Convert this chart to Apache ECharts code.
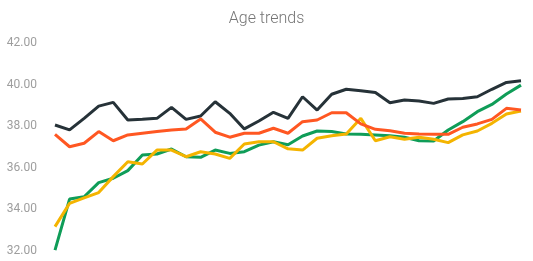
<!DOCTYPE html>
<html>
<head>
<meta charset="utf-8">
<script src="https://cdn.jsdelivr.net/npm/echarts@6/dist/echarts.min.js"></script>
<style>html,body{margin:0;padding:0;background:#fff}#c{width:533px;height:261px}</style>
</head>
<body>
<div id="c"></div>
<script>
var categories = [];
for (var k = 1; k <= 33; k++) categories.push(String(k));
var yTicks = [32, 34, 36, 38, 40, 42];
var seriesDark = [38.05,37.81,38.37,38.96,39.14,38.29,38.32,38.37,38.90,38.32,38.48,39.17,38.61,37.86,38.24,38.66,38.37,39.41,38.77,39.53,39.77,39.70,39.61,39.12,39.25,39.20,39.09,39.30,39.33,39.41,39.77,40.10,40.18];
var seriesOrange = [37.60,37.00,37.17,37.73,37.29,37.57,37.65,37.73,37.81,37.86,38.34,37.70,37.46,37.65,37.65,37.89,37.65,38.21,38.29,38.64,38.64,38.10,37.84,37.77,37.65,37.61,37.60,37.60,37.94,38.10,38.32,38.85,38.77];
var seriesGreen = [32.02,34.48,34.59,35.27,35.48,35.85,36.60,36.65,36.89,36.52,36.49,36.84,36.68,36.76,37.08,37.24,37.10,37.52,37.76,37.73,37.61,37.60,37.57,37.53,37.46,37.29,37.28,37.81,38.21,38.69,39.04,39.54,39.97];
var seriesYellow = [33.15,34.27,34.54,34.79,35.56,36.28,36.17,36.84,36.84,36.52,36.76,36.65,36.44,37.13,37.24,37.24,36.90,36.84,37.41,37.53,37.61,38.37,37.29,37.48,37.36,37.46,37.36,37.20,37.57,37.76,38.13,38.58,38.72];

var chart = echarts.init(document.getElementById('c'));
function line(name, data, color, z) {
  return {name: name, type: 'line', data: data, symbol: 'none', z: z,
    lineStyle: {color: color, width: 3}, itemStyle: {color: color}};
}
chart.setOption({
  animation: false,
  title: {text: 'Age trends', left: 'center', top: 6,
    textStyle: {fontFamily: 'Roboto', fontWeight: 300, fontSize: 16, color: '#757575'}},
  grid: {left: 55, right: 12, top: 43, bottom: 10.5, containLabel: false},
  xAxis: {type: 'category', data: categories, boundaryGap: false, show: false},
  yAxis: {type: 'value', min: yTicks[0], max: yTicks[yTicks.length - 1], interval: 2,
    axisLine: {show: false}, axisTick: {show: false}, splitLine: {show: false},
    axisLabel: {margin: 18, color: '#9e9e9e', fontFamily: 'Roboto', fontSize: 12,
      formatter: function (v) { return v.toFixed(2); }}},
  series: [
    line('A', seriesDark, '#263238', 4),
    line('B', seriesGreen, '#0F9D58', 2),
    line('C', seriesYellow, '#F4B400', 3),
    line('D', seriesOrange, '#FF5722', 5)
  ]
});
</script>
</body>
</html>
